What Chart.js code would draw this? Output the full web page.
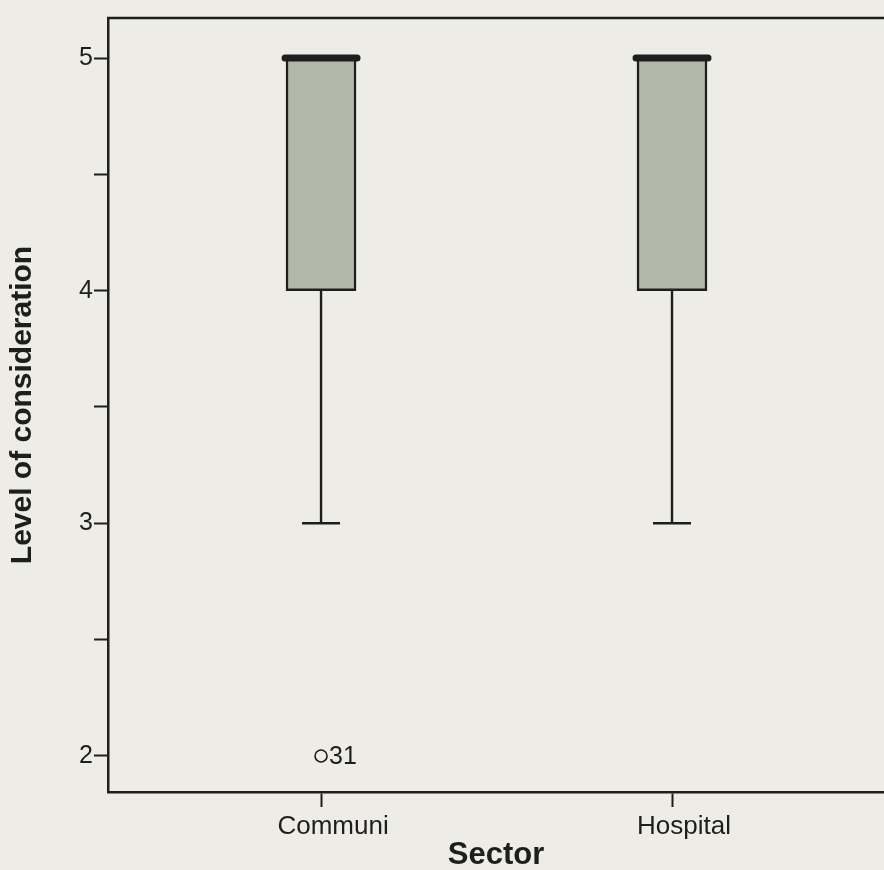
<!DOCTYPE html>
<html>
<head>
<meta charset="utf-8">
<script src="https://cdn.jsdelivr.net/npm/chart.js@4/dist/chart.umd.min.js"></script>
<style>
  html, body { margin: 0; padding: 0; background: #edece6; }
  #wrap { width: 884px; height: 870px; }
</style>
</head>
<body>
<div id="wrap"><canvas id="c" width="884" height="870"></canvas></div>
<script>
// ---- data ----
const categories = ['Communi', 'Hospital'];
const q1 = [4, 4];
const median = [5, 5];
const q3 = [5, 5];
const whiskerLow = [3, 3];
const whiskerHigh = [5, 5];
const outlierCategory = [0];
const outlierValues = [2];
const outlierLabels = ['31'];
const yTicks = [2, 2.5, 3, 3.5, 4, 4.5, 5];

const ink = '#1e1e1e';
const positions = categories.map((c, i) => i + 1);

const boxData = positions.map((x, i) => ({ x: x, y: [q1[i], q3[i]] }));
const outlierData = outlierValues.map((v, i) => ({ x: positions[outlierCategory[i]], y: v }));

const boxPlugin = {
  id: 'boxExtras',
  afterDatasetsDraw(chart) {
    const ctx = chart.ctx;
    const xs = chart.scales.x, ys = chart.scales.y;
    const area = chart.chartArea;
    ctx.save();
    // top frame line
    ctx.strokeStyle = ink;
    ctx.lineWidth = 2.5;
    ctx.beginPath();
    ctx.moveTo(area.left - 1, area.top);
    ctx.lineTo(chart.width, area.top);
    ctx.stroke();
    const halfBox = 35, halfCap = 19;
    positions.forEach((p, i) => {
      const cx = xs.getPixelForValue(p);
      ctx.strokeStyle = ink;
      ctx.lineWidth = 2.4;
      ctx.lineCap = 'butt';
      ctx.beginPath();
      ctx.moveTo(cx, ys.getPixelForValue(q1[i]));
      ctx.lineTo(cx, ys.getPixelForValue(whiskerLow[i]));
      ctx.moveTo(cx - halfCap, ys.getPixelForValue(whiskerLow[i]));
      ctx.lineTo(cx + halfCap, ys.getPixelForValue(whiskerLow[i]));
      if (whiskerHigh[i] > q3[i]) {
        ctx.moveTo(cx, ys.getPixelForValue(q3[i]));
        ctx.lineTo(cx, ys.getPixelForValue(whiskerHigh[i]));
        ctx.moveTo(cx - halfCap, ys.getPixelForValue(whiskerHigh[i]));
        ctx.lineTo(cx + halfCap, ys.getPixelForValue(whiskerHigh[i]));
      }
      ctx.stroke();
      // median
      ctx.lineWidth = 7;
      ctx.lineCap = 'round';
      ctx.beginPath();
      ctx.moveTo(cx - halfBox - 1, ys.getPixelForValue(median[i]));
      ctx.lineTo(cx + halfBox + 1, ys.getPixelForValue(median[i]));
      ctx.stroke();
    });
    ctx.fillStyle = ink;
    ctx.font = '25px "Liberation Sans", Arial, sans-serif';
    ctx.textBaseline = 'middle';
    ctx.textAlign = 'left';
    outlierValues.forEach((v, i) => {
      const px = xs.getPixelForValue(positions[outlierCategory[i]]);
      const py = ys.getPixelForValue(v);
      ctx.fillText(outlierLabels[i], px + 8, py + 1);
    });
    ctx.restore();
  }
};

new Chart(document.getElementById('c'), {
  data: {
    datasets: [
      {
        type: 'bar',
        data: boxData,
        backgroundColor: '#b3b7a9',
        borderColor: ink,
        borderWidth: 2.5,
        borderSkipped: false,
        barThickness: 70
      },
      {
        type: 'scatter',
        data: outlierData,
        pointStyle: 'circle',
        pointRadius: 6,
        pointBorderWidth: 1.6,
        pointBackgroundColor: 'rgba(0,0,0,0)',
        pointBorderColor: ink
      }
    ]
  },
  options: {
    responsive: false,
    devicePixelRatio: 1,
    animation: false,
    layout: { padding: { top: 18, right: 0, bottom: 0, left: 0 }, autoPadding: false },
    plugins: { legend: { display: false }, tooltip: { enabled: false } },
    scales: {
      x: {
        type: 'linear',
        offset: false,
        min: 0.393,
        max: 2.604,
        afterBuildTicks(scale) { scale.ticks = positions.map(v => ({ value: v })); },
        afterFit(scale) { scale.height = 78; },
        ticks: {
          callback: (v) => categories[Math.round(v) - 1] || '',
          color: ink,
          font: { family: '"Liberation Sans", Arial, sans-serif', size: 26 },
          padding: 4,
          labelOffset: 12,
          maxRotation: 0,
          autoSkip: false
        },
        grid: { offset: false, drawOnChartArea: false, drawTicks: true, tickLength: 15, tickColor: ink, tickWidth: 2 },
        border: { display: true, color: ink, width: 2.5 },
        title: {
          display: true,
          text: 'Sector',
          color: ink,
          font: { family: '"Liberation Sans", Arial, sans-serif', size: 31, weight: 'bold' },
          padding: { top: 0, bottom: -4 }
        }
      },
      y: {
        type: 'linear',
        min: 1.845,
        max: 5.172,
        afterBuildTicks(scale) { scale.ticks = yTicks.map(v => ({ value: v })); },
        afterFit(scale) { scale.width = 108; },
        ticks: {
          callback: (v) => Number.isInteger(v) ? String(v) : '',
          color: ink,
          font: { family: '"Liberation Sans", Arial, sans-serif', size: 25 },
          padding: 1
        },
        grid: { drawOnChartArea: false, drawTicks: true, tickLength: 14, tickColor: ink, tickWidth: 2 },
        border: { display: true, color: ink, width: 2.5 },
        title: {
          display: true,
          text: 'Level of consideration',
          color: ink,
          font: { family: '"Liberation Sans", Arial, sans-serif', size: 30, weight: 'bold' },
          padding: { top: 5, bottom: 0 }
        }
      }
    }
  },
  plugins: [boxPlugin]
});
</script>
</body>
</html>
